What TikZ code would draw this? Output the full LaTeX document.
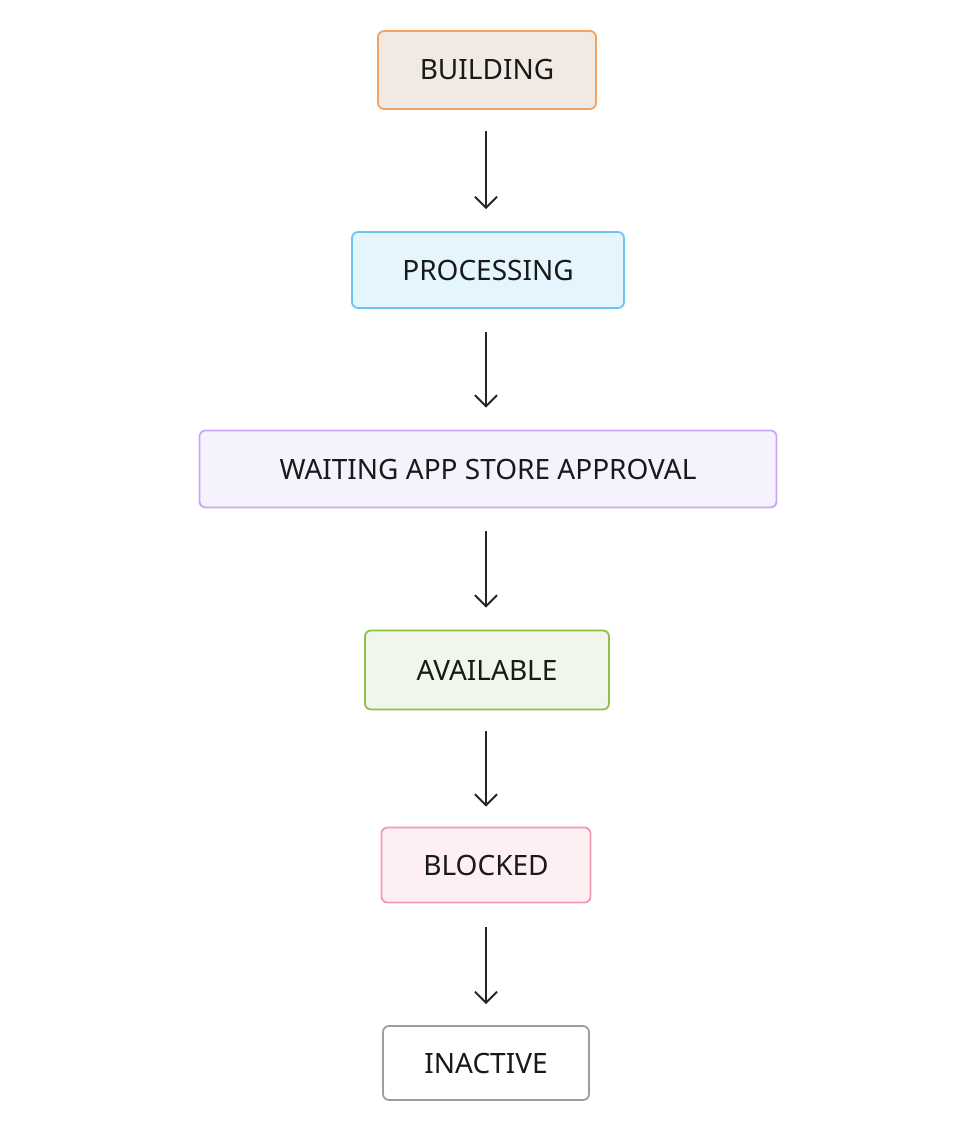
\documentclass[tikz,border=0pt]{standalone}
\usepackage{fontspec}
\setmainfont{Noto Sans}
\usetikzlibrary{arrows.meta}
\definecolor{bO}{HTML}{F4A261}\definecolor{fO}{HTML}{F0EAE3}
\definecolor{bB}{HTML}{6CC4F3}\definecolor{fB}{HTML}{E4F5FD}
\definecolor{bP}{HTML}{C8A8F4}\definecolor{fP}{HTML}{F5F1FD}
\definecolor{bG}{HTML}{8CC24A}\definecolor{fG}{HTML}{F1F6EA}
\definecolor{bR}{HTML}{F49AAE}\definecolor{fR}{HTML}{FEEFF3}
\definecolor{bK}{HTML}{9E9E9E}
\begin{document}
\begin{tikzpicture}[x=1pt,y=-1pt,
 st/.style={draw=#1,line width=1.8pt,rounded corners=6pt,inner sep=0pt,font=\fontsize{28}{32}\selectfont,text=black!90},
 ar/.style={line width=2pt,draw=black!85,-{Straight Barb[length=11pt,width=22pt,line width=2pt]}}]
\useasboundingbox (0,0) rectangle (970,1134);
\node[st=bO,fill=fO,minimum width=218pt,minimum height=78pt] (a) at (487,70) {BUILDING};
\node[st=bB,fill=fB,minimum width=272pt,minimum height=76pt] (b) at (488,270) {PROCESSING};
\node[st=bP,fill=fP,minimum width=577pt,minimum height=77pt] (c) at (488,469) {WAITING APP STORE APPROVAL};
\node[st=bG,fill=fG,minimum width=244pt,minimum height=79pt] (d) at (487,670) {AVAILABLE};
\node[st=bR,fill=fR,minimum width=209pt,minimum height=75pt] (e) at (486,865) {BLOCKED};
\node[st=bK,fill=white,minimum width=206pt,minimum height=74pt] (f) at (486,1063) {INACTIVE};
\draw[ar] ([yshift=-21pt]a.south -| 486,0) -- ([yshift=22pt]b.north -| 486,0);
\draw[ar] ([yshift=-23pt]b.south -| 486,0) -- ([yshift=22pt]c.north -| 486,0);
\draw[ar] ([yshift=-23pt]c.south -| 486,0) -- ([yshift=22pt]d.north -| 486,0);
\draw[ar] ([yshift=-21pt]d.south -| 486,0) -- ([yshift=20pt]e.north -| 486,0);
\draw[ar] ([yshift=-24pt]e.south -| 486,0) -- ([yshift=21pt]f.north -| 486,0);
\end{tikzpicture}
\end{document}
